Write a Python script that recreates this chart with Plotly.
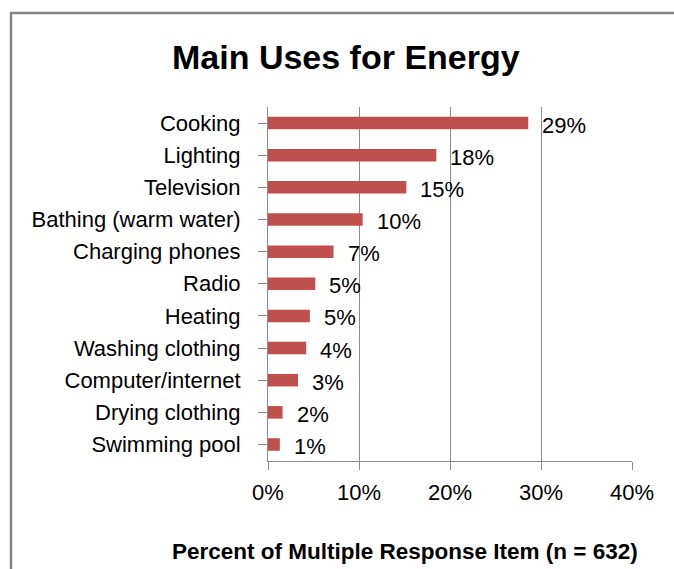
import plotly.graph_objects as go

categories = ["Cooking", "Lighting", "Television", "Bathing (warm water)", "Charging phones",
              "Radio", "Heating", "Washing clothing", "Computer/internet", "Drying clothing",
              "Swimming pool"]
values = [28.6, 18.5, 15.2, 10.4, 7.2, 5.2, 4.6, 4.2, 3.3, 1.6, 1.3]
value_labels = ["29%", "18%", "15%", "10%", "7%", "5%", "5%", "4%", "3%", "2%", "1%"]
x_ticks = [0, 10, 20, 30, 40]
x_tick_labels = ["0%", "10%", "20%", "30%", "40%"]

FONT = "Liberation Sans Narrow, Arial Narrow, Liberation Sans, Arial, sans-serif"
W, H = 674, 569
L, R, T, B = 268, 42, 107, 108
PW = W - L - R
PH = H - T - B

def px_x(px):
    return (px - L) / PW

def px_y(py):
    return 1 - (py - T) / PH

fig = go.Figure()
fig.add_trace(go.Bar(
    x=values, y=categories, orientation="h",
    marker=dict(color="#C0504D", line=dict(width=0)),
    width=0.39, hoverinfo="skip",
))

for c, v, lab in zip(categories, values, value_labels):
    fig.add_annotation(x=v, y=c, text=lab, showarrow=False, xanchor="left", yanchor="middle",
                       xshift=12, yshift=-2, font=dict(family=FONT, size=22, color="#000000"))

fig.add_annotation(x=px_x(346), y=px_y(57), xref="paper", yref="paper", text="<b>Main Uses for Energy</b>",
                   showarrow=False, xanchor="center", yanchor="middle",
                   font=dict(family=FONT, size=34, color="#000000"))
fig.add_annotation(x=px_x(405), y=px_y(551), xref="paper", yref="paper",
                   text="<b>Percent of Multiple Response Item (n = 632)</b>",
                   showarrow=False, xanchor="center", yanchor="middle",
                   font=dict(family=FONT, size=22.5, color="#000000"))

# frame (left and top border)
fig.add_shape(type="line", xref="paper", yref="paper", x0=px_x(11), x1=px_x(11), y0=px_y(13), y1=px_y(H + 5),
              line=dict(color="#858585", width=2.5))
fig.add_shape(type="line", xref="paper", yref="paper", x0=px_x(10), x1=px_x(W + 5), y0=px_y(13), y1=px_y(13),
              line=dict(color="#858585", width=2.5))

fig.update_layout(
    width=W, height=H,
    margin=dict(l=L, r=R, t=T, b=B),
    paper_bgcolor="white", plot_bgcolor="white",
    showlegend=False,
    font=dict(family=FONT, size=22, color="#000000"),
    xaxis=dict(range=[0, 40], tickvals=x_ticks, ticktext=x_tick_labels,
               showgrid=True, gridcolor="#8C8C8C", gridwidth=1,
               showline=True, linecolor="#8C8C8C", linewidth=1,
               ticks="outside", ticklen=8, tickcolor="#8C8C8C",
               ticklabelstandoff=4,
               zeroline=False, fixedrange=True,
               tickfont=dict(family=FONT, size=22, color="#000000")),
    yaxis=dict(categoryorder="array", categoryarray=categories[::-1],
               showgrid=False, showline=True, linecolor="#8C8C8C", linewidth=1,
               ticks="outside", ticklen=9, tickcolor="#8C8C8C",
               ticklabelstandoff=13,
               tickfont=dict(family=FONT, size=22, color="#000000"),
               fixedrange=True),
    bargap=0.6,
)

fig.write_html("out.html")
